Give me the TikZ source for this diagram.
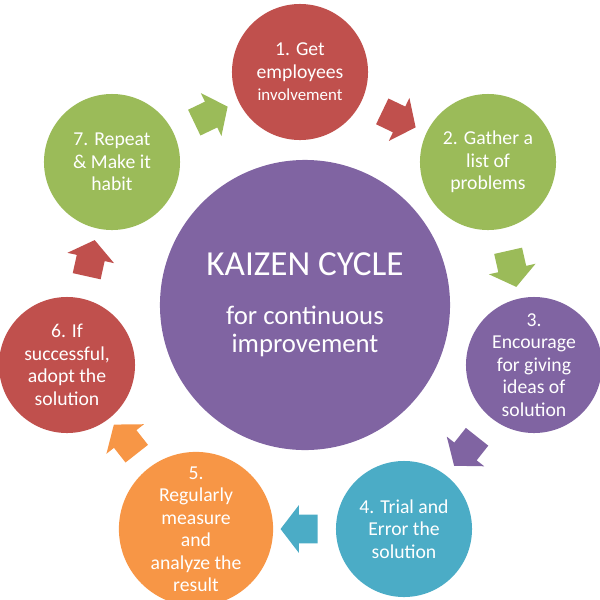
\documentclass[tikz,border=0pt]{standalone}
\usepackage{fontspec}
\setmainfont{Carlito}
\usetikzlibrary{shapes.arrows}
\definecolor{kred}{HTML}{C0504D}
\definecolor{kgreen}{HTML}{9BBB59}
\definecolor{kpurple}{HTML}{8064A2}
\definecolor{kteal}{HTML}{4BACC6}
\definecolor{korange}{HTML}{F79646}
\tikzset{
  stage/.style = {
    circle, fill=#1, text=white, inner sep=0pt,
    minimum size=3.4cm, align=center,
    font=\fontsize{14}{16}\selectfont,
  },
  hub/.style = {
    circle, fill=kpurple, text=white, inner sep=0pt,
    minimum size=7.25cm, align=center,
    font=\fontsize{19}{20}\selectfont,
  },
  flow/.style = {
    single arrow, fill=#1, draw=none,
    inner xsep=0pt, inner ysep=0.35cm,
    minimum height=0.925cm,
    single arrow head extend=0.24cm, single arrow tip angle=105,
    sloped, allow upside down, midway,
  },
}

\begin{document}
\begin{tikzpicture}[x=0.025cm, y=-0.025cm]
    \useasboundingbox (0,0) rectangle (600,600);
    % --- Hub ---
    \node[hub] (hub) at (305,305)
      {{\fontsize{25}{30}\selectfont KAIZEN CYCLE}\\[15pt]
       for continuous\\improvement};

    % --- Stages ---
    \node[stage=kred]    (s1) at (300,72)  {1. Get\\employees\\{\fontsize{12}{14}\selectfont involvement}};
    \node[stage=kgreen]  (s2) at (488,162) {2. Gather a\\list of\\problems};
    \node[stage=kpurple] (s3) at (534,365) {3.\\Encourage\\for giving\\ideas of\\solution};
    \node[stage=kteal]   (s4) at (404,529) {4. Trial and\\Error the\\solution};
    \node[stage=korange] (s5) at (196,529) {5.\\Regularly\\measure\\and\\analyze the\\result};
    \node[stage=kred]    (s6) at (67,365)  {6. If\\successful,\\adopt the\\solution};
    \node[stage=kgreen]  (s7) at (112,162) {7. Repeat\\\& Make it\\habit};

    % --- Arrows ---
    \path (s1) -- node[flow=kred]    {} (s2);
    \path (s2) -- node[flow=kgreen]  {} (s3);
    \path (s3) -- node[flow=kpurple] {} (s4);
    \path (s4) -- node[flow=kteal]   {} (s5);
    \path (s5) -- node[flow=korange] {} (s6);
    \path (s6) -- node[flow=kred]    {} (s7);
    \path (s7) -- node[flow=kgreen]  {} (s1);
\end{tikzpicture}
\end{document}
